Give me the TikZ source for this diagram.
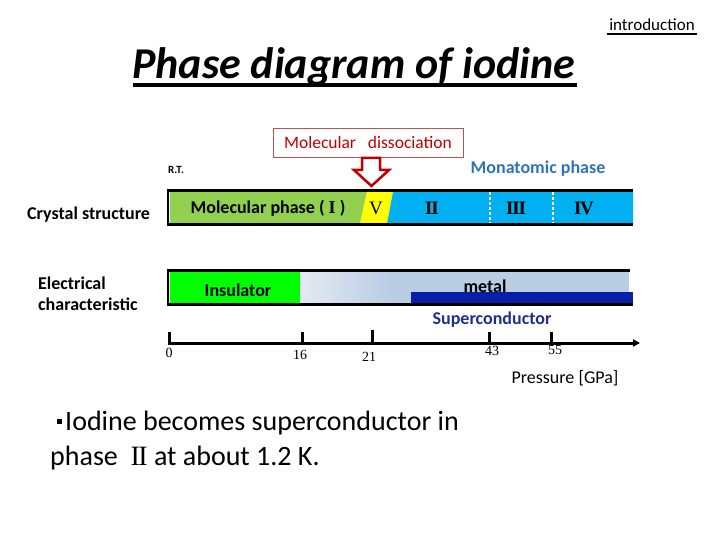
\documentclass[tikz,border=0pt]{standalone}
\usepackage{fontspec}
\setmainfont{Carlito}
\newfontfamily\rom{Liberation Serif}
\usetikzlibrary{arrows.meta}
\definecolor{cgreen}{HTML}{92D050}
\definecolor{cyellow}{HTML}{FFFF00}
\definecolor{cblue}{HTML}{00B0F0}
\definecolor{igreen}{HTML}{00FF00}
\definecolor{lblue}{HTML}{B9CDE5}
\definecolor{lwhite}{HTML}{E4EAF3}
\definecolor{dblue}{HTML}{0A1FA8}
\definecolor{navy}{HTML}{1F2F8F}
\definecolor{mono}{HTML}{2E75B6}
\definecolor{dred}{HTML}{C00000}
\definecolor{bred}{HTML}{C0504D}
\tikzset{
  lbl/.style={inner sep=0pt, font=\fontsize{18}{20}\selectfont\bfseries},
  num/.style={inner sep=0pt, font=\rom\fontsize{14}{15}\selectfont},
  barline/.style={line width=3pt},
  tick/.style={line width=3pt},
  romnum/.style={inner sep=0pt, font=\rom\bfseries\fontsize{19}{20}\selectfont},
}
\begin{document}
\begin{tikzpicture}[x=1pt,y=-1pt]
\useasboundingbox (0,0) rectangle (720,540);
% header
\node[inner sep=0pt, anchor=base, font=\fontsize{17}{19}\selectfont] (intro) at (652,31) {introduction};
\draw[line width=1.2pt] (607,34) -- (697,34);
\node[inner sep=0pt, anchor=base west, font=\fontsize{44}{48}\selectfont\bfseries\itshape] (title) at (132,79) {Phase diagram of iodine};
\draw[line width=4pt] (133,85) -- (577,85);
% dissociation box and arrow
\node[draw=bred, line width=0.8pt, minimum width=190pt, minimum height=29pt, inner sep=0pt, text=dred, font=\fontsize{17.5}{19}\selectfont] (diss) at (368,142.5) {Molecular\ \ \ dissociation};
\draw[dred, line width=2.5pt, fill=white, line join=miter]
  (362,158) -- (380,158) -- (380,170) -- (389,170) -- (371.5,186) -- (354,170) -- (362,170) -- cycle;
% labels above bar
\node[inner sep=0pt, font=\fontsize{11}{12}\selectfont\bfseries] (rt) at (176,170) {R.T.};
\node[lbl, text=mono] (mono) at (538,169) {Monatomic phase};
% crystal structure bar
\node[lbl, anchor=base west] (crys) at (27,220) {Crystal structure};
\fill[cgreen] (170,192) -- (367,192) -- (360,224) -- (170,224) -- cycle;
\fill[cyellow] (367,192) -- (393,192) -- (387,224) -- (360,224) -- cycle;
\fill[cblue] (393,192) -- (633,192) -- (633,224) -- (387,224) -- cycle;
\draw[white, line width=2pt, dash pattern=on 3pt off 2pt] (490,192) -- (490,224);
\draw[white, line width=2pt, dash pattern=on 3pt off 2pt] (553,192) -- (553,224);
\draw[barline] (167,190.5) -- (633,190.5);
\draw[barline] (167,225) -- (633,225);
\draw[line width=2.5pt] (168,189) -- (168,226.5);
\node[lbl] (p1) at (268,208) {Molecular phase ( {\rom I} )};
\node[inner sep=0pt, font=\rom\fontsize{19}{20}\selectfont] (p5) at (376,208) {V};
\node[romnum] (p2) at (432,208) {I\kern-1.2pt I};
\node[romnum] (p3) at (516,208) {I\kern-1.2pt I\kern-1.2pt I};
\node[romnum] (p4) at (584,208) {I\kern-1.5pt V};
% electrical bar
\node[lbl, anchor=base west] (elec1) at (38,289) {Electrical};
\node[lbl, anchor=base west] (elec2) at (38,310) {characteristic};
\fill[igreen] (170,272) rectangle (300,303);
\shade[left color=lwhite, right color=lblue] (300,272) rectangle (390,303);
\fill[lblue] (390,272) rectangle (629,303);
\fill[dblue] (411,292) rectangle (633,305);
\draw[line width=2.5pt] (167,270.5) -- (630,270.5);
\draw[line width=2.5pt] (167,304.5) -- (633,304.5);
\draw[line width=2.5pt] (168,269) -- (168,306);
\node[lbl] (ins) at (238,290) {Insulator};
\node[lbl] (metal) at (485,286) {metal};
\node[lbl, text=navy] (sc) at (492,320) {Superconductor};
% pressure axis
\coordinate (a0) at (168,343);
\coordinate (aend) at (640,343);
\draw[line width=3pt, -{Triangle[length=7pt,width=7pt]}] (a0) -- (aend);
\draw[tick] (169,344) -- (169,332);
\draw[tick] (302,344) -- (302,332);
\draw[tick] (372,344) -- (372,330);
\draw[tick] (489,344) -- (489,332);
\draw[tick] (551,344) -- (551,332);
\node[num] (n0) at (169,353) {0};
\node[num] (n16) at (300,355) {16};
\node[num] (n21) at (369,357) {21};
\node[num] (n43) at (492,351) {43};
\node[num] (n55) at (555,350) {55};
\node[inner sep=0pt, font=\fontsize{18}{20}\selectfont] (pres) at (565,378) {Pressure [GPa]};
% note
\node[inner sep=0pt, anchor=base west, font=\fontsize{28}{30}\selectfont] (note1) at (57,430)
  {\raisebox{6pt}{\rule{5pt}{5pt}}\kern3pt Iodine becomes superconductor in};
\node[inner sep=0pt, anchor=base west, font=\fontsize{28}{30}\selectfont] (note2) at (50,465)
  {phase\ \ {\rom I\kern-1.5pt I}\ at about 1.2 K.};
\end{tikzpicture}
\end{document}
